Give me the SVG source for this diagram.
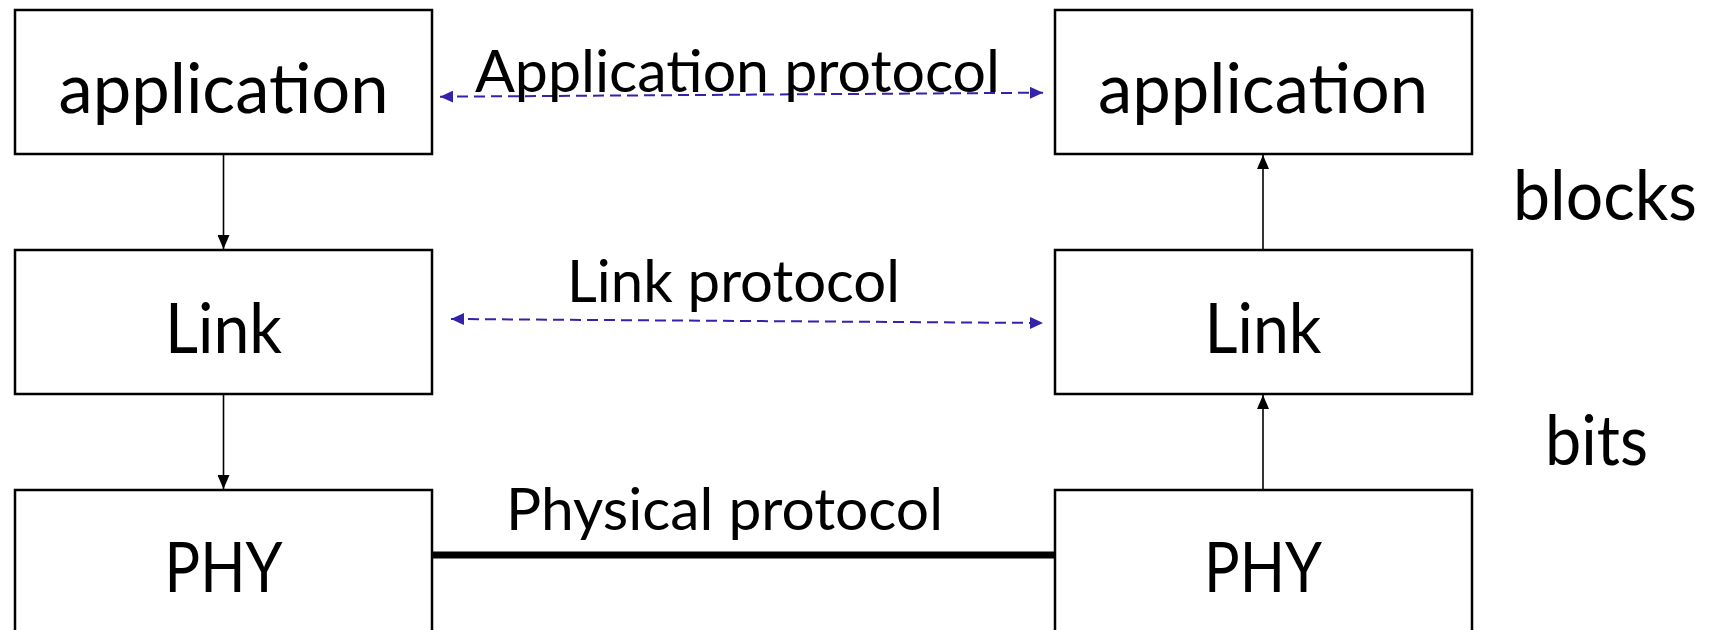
<svg xmlns="http://www.w3.org/2000/svg" width="1716" height="630" viewBox="0 0 1716 630">
  <style>
    .box { fill: #ffffff; stroke: #000000; stroke-width: 2.5; }
    .node-text { font-family: Lato, "Open Sans", sans-serif; font-size: 69px; fill: #000000; text-anchor: middle; }
    .label { font-family: Lato, "Open Sans", sans-serif; font-size: 59px; fill: #000000; }
    .side { font-family: Lato, "Open Sans", sans-serif; font-size: 69px; fill: #000000; }
    .flow { stroke: #000000; stroke-width: 1.6; fill: none; }
    .peer { stroke: #3322AA; stroke-width: 2; stroke-dasharray: 11 6; fill: none; }
    .wire { stroke: #000000; stroke-width: 7; }
  </style>
  <defs>
    <marker id="arrow-black" viewBox="0 0 14 12" refX="14" refY="6" markerWidth="14" markerHeight="12" markerUnits="userSpaceOnUse" orient="auto">
      <path d="M0,0 L14,6 L0,12 z" fill="#000000"/>
    </marker>
    <marker id="arrow-blue-end" viewBox="0 0 13 12" refX="13" refY="6" markerWidth="13" markerHeight="12" markerUnits="userSpaceOnUse" orient="auto">
      <path d="M0,0 L13,6 L0,12 z" fill="#3322AA"/>
    </marker>
    <marker id="arrow-blue-start" viewBox="0 0 13 12" refX="0" refY="6" markerWidth="13" markerHeight="12" markerUnits="userSpaceOnUse" orient="auto">
      <path d="M13,0 L0,6 L13,12 z" fill="#3322AA"/>
    </marker>
  </defs>

  <!-- connectors -->
  <g id="connectors">
    <!-- sender stack: downwards -->
    <line class="flow" x1="223.5" y1="154" x2="223.5" y2="249" marker-end="url(#arrow-black)"/>
    <line class="flow" x1="223.5" y1="394" x2="223.5" y2="489" marker-end="url(#arrow-black)"/>
    <!-- receiver stack: upwards -->
    <line class="flow" x1="1263" y1="250" x2="1263" y2="155" marker-end="url(#arrow-black)"/>
    <line class="flow" x1="1263" y1="490" x2="1263" y2="395" marker-end="url(#arrow-black)"/>
    <!-- peer protocols -->
    <line class="peer" x1="440" y1="96.7" x2="1043" y2="92.7" marker-start="url(#arrow-blue-start)" marker-end="url(#arrow-blue-end)"/>
    <line class="peer" x1="451" y1="319" x2="1043" y2="323" marker-start="url(#arrow-blue-start)" marker-end="url(#arrow-blue-end)"/>
    <!-- physical medium -->
    <line class="wire" x1="432" y1="555" x2="1055" y2="555"/>
    <text class="label" x="475" y="92" textLength="525" lengthAdjust="spacingAndGlyphs">Application protocol</text>
    <text class="label" x="567" y="302" textLength="333" lengthAdjust="spacingAndGlyphs">Link protocol</text>
    <text class="label" x="506" y="530" textLength="437" lengthAdjust="spacingAndGlyphs">Physical protocol</text>
  </g>

  <!-- left stack -->
  <g id="app-left">
    <rect class="box" x="15" y="10" width="417" height="144"/>
    <text class="node-text" x="223.5" y="113" textLength="330" lengthAdjust="spacingAndGlyphs">application</text>
  </g>
  <g id="link-left">
    <rect class="box" x="15" y="250" width="417" height="144"/>
    <text class="node-text" x="223.5" y="353" textLength="117" lengthAdjust="spacingAndGlyphs">Link</text>
  </g>
  <g id="phy-left">
    <rect class="box" x="15" y="490" width="417" height="150"/>
    <text class="node-text" x="223.5" y="592" textLength="118" lengthAdjust="spacingAndGlyphs">PHY</text>
  </g>

  <!-- right stack -->
  <g id="app-right">
    <rect class="box" x="1055" y="10" width="417" height="144"/>
    <text class="node-text" x="1263" y="113" textLength="330" lengthAdjust="spacingAndGlyphs">application</text>
  </g>
  <g id="link-right">
    <rect class="box" x="1055" y="250" width="417" height="144"/>
    <text class="node-text" x="1263" y="353" textLength="117" lengthAdjust="spacingAndGlyphs">Link</text>
  </g>
  <g id="phy-right">
    <rect class="box" x="1055" y="490" width="417" height="150"/>
    <text class="node-text" x="1263" y="592" textLength="118" lengthAdjust="spacingAndGlyphs">PHY</text>
  </g>

  <!-- data unit annotations -->
  <g id="unit-blocks">
    <text class="side" x="1513" y="220" textLength="184" lengthAdjust="spacingAndGlyphs">blocks</text>
  </g>
  <g id="unit-bits">
    <text class="side" x="1545" y="465" textLength="103" lengthAdjust="spacingAndGlyphs">bits</text>
  </g>
</svg>
